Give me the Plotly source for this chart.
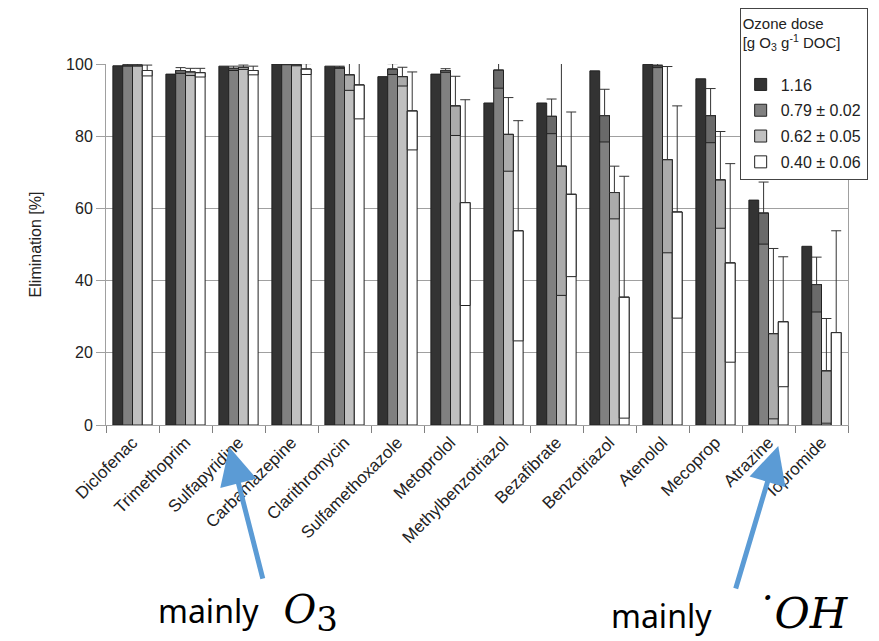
import plotly.graph_objects as go

categories = ["Diclofenac", "Trimethoprim", "Sulfapyridine", "Carbamazepine", "Clarithromycin",
              "Sulfamethoxazole", "Metoprolol", "Methylbenzotriazol", "Bezafibrate", "Benzotriazol",
              "Atenolol", "Mecoprop", "Atrazine", "Iopromide"]

dose_116 = [99.5, 97.2, 99.4, 100.0, 99.4, 96.5, 97.2, 89.2, 89.2, 98.1, 99.9, 95.9, 62.3, 49.5]

dose_079 = [99.7, 98.2, 98.8, 100.0, 99.1, 98.6, 98.2, 98.3, 85.5, 85.7, 99.5, 85.7, 58.7, 38.9]
err_079 = [0.3, 0.8, 0.6, 0.2, 0.3, 1.5, 0.5, 5.0, 4.8, 7.3, 0.5, 7.5, 8.6, 7.6]

dose_062 = [99.7, 97.8, 99.1, 99.8, 97.0, 96.5, 88.4, 80.5, 71.7, 64.4, 73.5, 67.9, 25.3, 15.0]
err_062 = [0.3, 1.0, 0.6, 0.3, 4.3, 2.6, 8.2, 10.2, 35.8, 7.3, 25.8, 13.4, 23.6, 14.5]

dose_040 = [98.2, 97.6, 98.2, 98.6, 94.2, 87.0, 61.6, 53.8, 63.9, 35.4, 59.0, 44.9, 28.6, 25.6]
err_040 = [1.5, 1.2, 1.2, 1.5, 9.4, 10.8, 28.5, 30.5, 22.8, 33.5, 29.4, 27.5, 18.0, 28.2]

series_names = ["1.16", "0.79 ± 0.02", "0.62 ± 0.05", "0.40 ± 0.06"]
series_colors = ["#333333", "#808080", "#c0c0c0", "#ffffff"]
box_colors = ["#333333", "#6a6a6a", "#ababab", "#ffffff"]

FONT = "Liberation Sans, Arial, sans-serif"
fig = go.Figure()

values = [dose_116, dose_079, dose_062, dose_040]
errors = [None, err_079, err_062, err_040]
for i, (name, vals) in enumerate(zip(series_names, values)):
    fig.add_trace(go.Bar(
        x=categories, y=vals, name=name, offsetgroup=str(i), legendgroup=str(i),
        marker=dict(color=series_colors[i], line=dict(color="#222222", width=1)),
    ))

for i in range(1, 4):
    vals, errs = values[i], errors[i]
    fig.add_trace(go.Bar(
        x=categories, y=errs, base=[v - e for v, e in zip(vals, errs)],
        offsetgroup=str(i), legendgroup=str(i), showlegend=False, hoverinfo="skip",
        marker=dict(color=box_colors[i], line=dict(color="#222222", width=1)),
        error_y=dict(type="data", symmetric=False, array=errs, arrayminus=[0] * len(errs),
                     color="#333333", thickness=1, width=5),
    ))

fig.update_layout(
    width=871, height=633,
    paper_bgcolor="white", plot_bgcolor="white",
    margin=dict(l=98, r=31, t=56, b=216, autoexpand=False),
    barmode="group", bargap=0.26, bargroupgap=0,
    font=dict(family=FONT, size=16, color="#222222"),
    legend=dict(
        title=dict(text="Ozone dose<br>[g O<sub>3</sub> g<sup>-1</sup> DOC]<br> ", font=dict(size=15)),
        x=0.854, y=1.155, xanchor="left", yanchor="top",
        bgcolor="white", bordercolor="#444444", borderwidth=1,
        font=dict(size=16), tracegroupgap=2,
    ),
    showlegend=True,
)

fig.update_yaxes(
    range=[0, 100], tickvals=[0, 20, 40, 60, 80, 100],
    showgrid=True, gridcolor="#a0a0a0", gridwidth=1,
    showline=True, linecolor="#a0a0a0", mirror=True,
    ticks="outside", ticklen=9, tickcolor="#a0a0a0",
    zeroline=False, automargin=False, tickfont=dict(size=16),
    title=dict(text="Elimination [%]", standoff=20, font=dict(size=16)),
)
fig.update_xaxes(
    tickangle=-45, showline=True, linecolor="#a0a0a0",
    ticks="outside", tickson="boundaries", ticklen=7, tickcolor="#808080",
    showgrid=False, automargin=False, tickfont=dict(size=17),
)

ARROW = "#5b9bd5"
fig.add_annotation(xref="paper", yref="paper", x=0.166, y=-0.061, ax=34, ay=133,
                   showarrow=True, arrowhead=2, arrowsize=1.5, arrowwidth=5, arrowcolor=ARROW, text="")
fig.add_annotation(xref="paper", yref="paper", x=0.906, y=-0.058, ax=-43, ay=144,
                   showarrow=True, arrowhead=2, arrowsize=1.5, arrowwidth=5, arrowcolor=ARROW, text="")

NB = "\u00a0"
fig.add_annotation(xref="paper", yref="paper", x=0.0668, y=-0.52, xanchor="left", yanchor="middle",
                   showarrow=False,
                   text="mainly" + NB * 3 + "<span style='font-family:DejaVu Serif;font-size:40px'><i>O</i>"
                        "<sub><span style='font-size:34px'>3</span></sub></span>",
                   font=dict(family="Noto Sans, sans-serif", size=32, color="black"))
fig.add_annotation(xref="paper", yref="paper", x=0.678, y=-0.52, xanchor="left", yanchor="middle",
                   showarrow=False,
                   text="mainly" + NB * 5 + "<span style='font-family:DejaVu Serif;font-size:43px'><i>˙OH</i></span>",
                   font=dict(family="Noto Sans, sans-serif", size=32, color="black"))

fig.write_html("out.html")
